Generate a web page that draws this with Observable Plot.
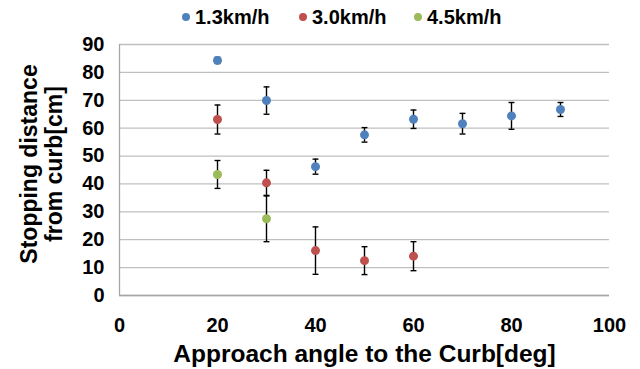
<!DOCTYPE html>
<html>
<head>
<meta charset="utf-8">
<script src="https://cdn.jsdelivr.net/npm/d3@7"></script>
<script src="https://cdn.jsdelivr.net/npm/@observablehq/plot@0.6"></script>
<style>
  html, body { margin: 0; padding: 0; background: #fff; }
  body { width: 640px; height: 369px; overflow: hidden; font-family: "Liberation Sans", Arial, sans-serif; }
  #legend { position: relative; height: 30px; font-weight: bold; font-size: 20px; color: #000; }
  #legend .dot { position: absolute; width: 8px; height: 8px; border-radius: 50%; top: 13px; }
  #legend .lab { position: absolute; top: 5px; line-height: 24px; }
</style>
</head>
<body>
<div id="legend"></div>
<div id="chart"></div>
<script>
const seriesNames = ["1.3km/h", "3.0km/h", "4.5km/h"];
const seriesColors = ["#4F81BD", "#C0504D", "#9BBB59"];

const angles13 = [20, 30, 40, 50, 60, 70, 80, 90];
const mean13   = [84.3, 69.9, 46.2, 57.6, 63.2, 61.6, 64.4, 66.7];
const err13    = [1.1, 4.9, 2.7, 2.6, 3.3, 3.7, 4.8, 2.5];

const angles30 = [20, 30, 40, 50, 60];
const mean30   = [63.1, 40.4, 16.1, 12.5, 14.1];
const err30    = [5.2, 4.5, 8.5, 5.0, 5.2];

const angles45 = [20, 30];
const mean45   = [43.4, 27.5];
const err45    = [5.0, 8.2];

const xTicks = [0, 20, 40, 60, 80, 100];
const yTicks = [0, 10, 20, 30, 40, 50, 60, 70, 80, 90];

const data = [];
[[angles13, mean13, err13], [angles30, mean30, err30], [angles45, mean45, err45]].forEach(([a, m, e], si) => {
  a.forEach((x, i) => data.push({series: seriesNames[si], x, y: m[i], lo: m[i] - e[i], hi: m[i] + e[i]}));
});

// legend
const legend = document.getElementById("legend");
const legendPos = [186, 303, 418];
seriesNames.forEach((n, i) => {
  const d = document.createElement("span");
  d.className = "dot";
  d.style.left = (legendPos[i] - 4) + "px";
  d.style.background = seriesColors[i];
  legend.appendChild(d);
  const t = document.createElement("span");
  t.className = "lab";
  t.style.left = (legendPos[i] + 9) + "px";
  t.textContent = n;
  legend.appendChild(t);
});

const capHalf = 0.6;
const chart = Plot.plot({
  width: 640,
  height: 339,
  marginLeft: 119,
  marginRight: 31,
  marginTop: 14,
  marginBottom: 74,
  style: {fontFamily: "'Liberation Sans', Arial, sans-serif", background: "#fff"},
  x: {domain: [0, 100]},
  y: {domain: [0, 90]},
  color: {domain: seriesNames, range: seriesColors},
  marks: [
    Plot.gridY(yTicks, {stroke: "#bfbfbf", strokeOpacity: 1, strokeWidth: 1.3}),
    Plot.ruleX([0], {stroke: "#a6a6a6", strokeWidth: 1.3}),
    Plot.ruleY([0], {stroke: "#a6a6a6", strokeWidth: 1.3}),
    Plot.axisY(yTicks, {tickSize: 0, tickPadding: 15, fontSize: 20, fontWeight: "bold", label: null, fill: "#000"}),
    Plot.axisX(xTicks, {tickSize: 0, tickPadding: 22, fontSize: 20, fontWeight: "bold", label: null, fill: "#000"}),
    Plot.ruleX(data, {x: "x", y1: "lo", y2: "hi", stroke: "#000", strokeWidth: 1.4}),
    Plot.link(data, {x1: d => d.x - capHalf, x2: d => d.x + capHalf, y1: "lo", y2: "lo", stroke: "#000", strokeWidth: 1.4}),
    Plot.link(data, {x1: d => d.x - capHalf, x2: d => d.x + capHalf, y1: "hi", y2: "hi", stroke: "#000", strokeWidth: 1.4}),
    Plot.dot(data, {x: "x", y: "y", fill: "series", r: 4.5}),
    Plot.text(["Approach angle to the Curb[deg]"], {frameAnchor: "bottom", dy: 59, fontSize: 24.5, fontWeight: "bold", fill: "#000", lineAnchor: "middle", textAnchor: "middle"}),
    Plot.text(["Stopping distance\nfrom curb[cm]"], {frameAnchor: "left", dx: -78, dy: -6, rotate: -90, fontSize: 23, fontWeight: "bold", fill: "#000", lineAnchor: "middle", textAnchor: "middle", lineHeight: 1.1})
  ]
});
document.getElementById("chart").appendChild(chart);
</script>
</body>
</html>
